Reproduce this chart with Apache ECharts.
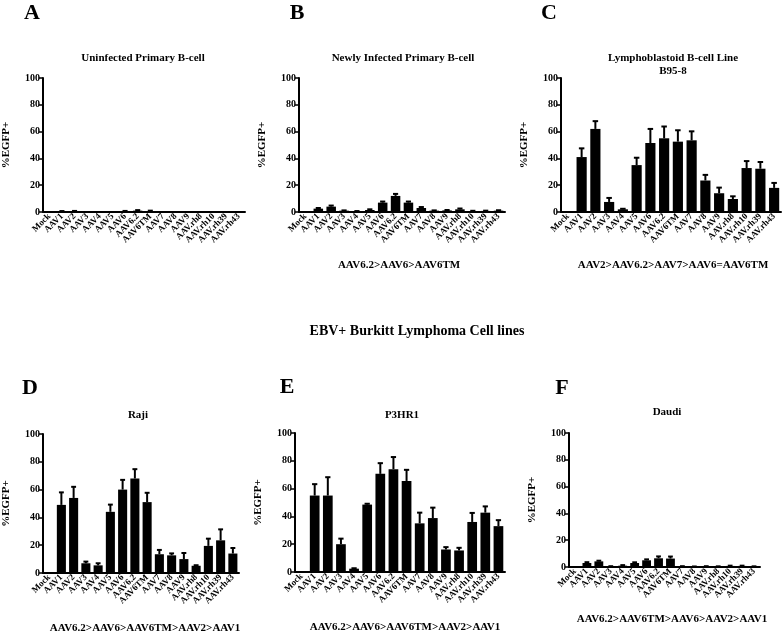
<!DOCTYPE html>
<html><head><meta charset="utf-8">
<script src="https://cdn.jsdelivr.net/npm/echarts@6/dist/echarts.min.js"></script>
<style>html,body{margin:0;padding:0;background:#fff}#c{width:784px;height:634px}</style>
</head><body><div id="c"></div>
<script>
const categories = ['Mock','AAV1','AAV2','AAV3','AAV4','AAV5','AAV6','AAV6.2','AAV6TM','AAV7','AAV8','AAV9','AAV.rh8','AAV.rh10','AAV.rh39','AAV.rh43'];
const yTicks = [0, 20, 40, 60, 80, 100];

const valuesA = [0, 0.5, 0.6, 0.1, 0.1, 0.1, 0.6, 1.0, 0.7, 0.1, 0.1, 0.1, 0.1, 0.1, 0.1, 0.1];
const errorsA = [0, 0.2, 0.2, 0, 0, 0, 0.2, 0.4, 0.3, 0, 0, 0, 0, 0, 0, 0];
const valuesB = [0, 2.5, 4, 1, 0.5, 1.5, 7, 12, 7, 3, 1, 1.2, 2, 0.7, 0.8, 1];
const errorsB = [0, 0.5, 0.8, 0.2, 0.2, 0.5, 0.8, 1.5, 0.8, 0.7, 0.2, 0.3, 0.6, 0.2, 0.2, 0.3];
const valuesC = [0, 41, 62, 7.5, 2, 35, 51.5, 55, 52.5, 53.5, 23.5, 14, 9.7, 32.8, 32.3, 18];
const errorsC = [0, 6.5, 5.8, 3, 0.4, 5.5, 10.5, 8.8, 8.5, 6.7, 4.2, 4.2, 2, 5.2, 5, 3.7];
const valuesD = [0, 49, 54, 7, 5.5, 44, 60, 68, 51, 13.5, 12.7, 10, 5.2, 19.5, 23.5, 14];
const errorsD = [0, 9, 8, 1.2, 1.5, 5.2, 7, 6.7, 6.7, 3.1, 1.4, 4.4, 0.4, 5.2, 7.9, 4];
const valuesE = [0, 55, 55, 20, 2.4, 48.5, 70.6, 74, 65.5, 35, 38.8, 16.2, 15.5, 36, 42.7, 33];
const errorsE = [0, 8.2, 13.2, 4, 0.3, 0.6, 7.7, 8.7, 8, 7.7, 7.5, 1.7, 1.9, 6.5, 4.5, 4.3];
const valuesF = [0, 3, 4.2, 0.5, 1, 3, 5, 6.5, 6.3, 0.5, 0.3, 0.5, 0.4, 0.8, 0.8, 0.4];
const errorsF = [0, 0.6, 0.5, 0.1, 0.4, 0.5, 0.7, 1.4, 1.5, 0.1, 0.1, 0.1, 0.1, 0.2, 0.2, 0.1];

const panelLetters = ['A','B','C','D','E','F'];
const panelTitles = ['Uninfected Primary B-cell','Newly Infected Primary B-cell','Lymphoblastoid B-cell Line\nB95-8','Raji','P3HR1','Daudi'];
const panelRankings = ['', 'AAV6.2>AAV6>AAV6TM', 'AAV2>AAV6.2>AAV7>AAV6=AAV6TM', 'AAV6.2>AAV6>AAV6TM>AAV2>AAV1', 'AAV6.2>AAV6>AAV6TM>AAV2>AAV1', 'AAV6.2>AAV6TM>AAV6>AAV2>AAV1'];
const sectionTitle = 'EBV+ Burkitt Lymphoma Cell lines';
const yAxisName = '%EGFP+';

const allValues = [valuesA, valuesB, valuesC, valuesD, valuesE, valuesF];
const allErrors = [errorsA, errorsB, errorsC, errorsD, errorsE, errorsF];

// layout (pixels)
const grids = [
  {left: 41, top: 78, width: 204, height: 134},
  {left: 299, top: 78, width: 206, height: 134},
  {left: 561, top: 78, width: 220, height: 134},
  {left: 41, top: 434, width: 198, height: 139},
  {left: 295, top: 433, width: 210, height: 139},
  {left: 569, top: 433, width: 191, height: 134}
];
const letterPos = [[32,13],[297,13],[549,13],[30,388],[287,387],[562,388]];
const titlePos = [[143,58.5],[403,58.5],[673,65],[138,415],[402,415],[667,412]];
const rankPos = [null,[399,265],[673,265],[145,628],[405,627],[672,619]];

const FONT = '"Liberation Serif", "Times New Roman", serif';

const chart = echarts.init(document.getElementById('c'), null, {renderer: 'canvas'});

const xAxes = [], yAxes = [], series = [];
grids.forEach((g, i) => {
  xAxes.push({
    type: 'category', gridIndex: i, data: categories,
    axisLine: {lineStyle: {color: '#000', width: 2}},
    axisTick: {alignWithLabel: true, length: 4, lineStyle: {color: '#000', width: 1.5}},
    axisLabel: {rotate: 45, interval: 0, fontSize: 9, fontWeight: 'bold', fontFamily: FONT, color: '#000', margin: 3},
    splitLine: {show: false}
  });
  yAxes.push({
    type: 'value', gridIndex: i, min: yTicks[0], max: yTicks[yTicks.length - 1], interval: yTicks[1] - yTicks[0],
    name: yAxisName, nameLocation: 'middle', nameGap: 31, nameRotate: 90,
    nameTextStyle: {fontSize: 11, fontWeight: 'bold', fontFamily: FONT, color: '#000'},
    axisLine: {show: true, lineStyle: {color: '#000', width: 2}},
    axisTick: {show: true, length: 4, lineStyle: {color: '#000', width: 1.5}},
    axisLabel: {fontSize: 10, fontWeight: 'bold', fontFamily: FONT, color: '#000', margin: 3},
    splitLine: {show: false}
  });
  series.push({
    type: 'bar', xAxisIndex: i, yAxisIndex: i, data: allValues[i],
    barWidth: '74%', itemStyle: {color: '#000'}, silent: true
  });
  const errData = allValues[i].map((v, k) => [k, v, allErrors[i][k]]);
  series.push({
    type: 'custom', xAxisIndex: i, yAxisIndex: i, data: errData, silent: true,
    encode: {x: 0, y: 1}, z: 3,
    renderItem: function (params, api) {
      const e = api.value(2);
      if (!e) return null;
      const x = api.value(0), v = api.value(1);
      const base = api.coord([x, v]);
      const top = api.coord([x, v + e]);
      const cw = api.size([1, 0])[0] * 0.4;
      const st = {stroke: '#000', lineWidth: 2};
      return {type: 'group', children: [
        {type: 'line', shape: {x1: base[0], y1: base[1], x2: top[0], y2: top[1]}, style: st},
        {type: 'line', shape: {x1: top[0] - cw / 2, y1: top[1], x2: top[0] + cw / 2, y2: top[1]}, style: st}
      ]};
    }
  });
});

const graphics = [];
panelLetters.forEach((L, i) => {
  graphics.push({type: 'text', x: letterPos[i][0], y: letterPos[i][1],
    style: {text: L, font: 'bold 22px ' + FONT, fill: '#000', align: 'center', verticalAlign: 'middle'}});
  graphics.push({type: 'text', x: titlePos[i][0], y: titlePos[i][1],
    style: {text: panelTitles[i], font: 'bold 11px ' + FONT, fill: '#000', align: 'center', verticalAlign: 'middle', lineHeight: 13}});
  if (rankPos[i]) {
    graphics.push({type: 'text', x: rankPos[i][0], y: rankPos[i][1],
      style: {text: panelRankings[i], font: 'bold 11px ' + FONT, fill: '#000', align: 'center', verticalAlign: 'middle'}});
  }
});
graphics.push({type: 'text', x: 417, y: 331,
  style: {text: sectionTitle, font: 'bold 14px ' + FONT, fill: '#000', align: 'center', verticalAlign: 'middle'}});

chart.setOption({
  backgroundColor: '#fff',
  animation: false,
  grid: grids.map(g => Object.assign({containLabel: false}, g)),
  xAxis: xAxes,
  yAxis: yAxes,
  series: series,
  graphic: graphics
});
</script>
</body></html>
